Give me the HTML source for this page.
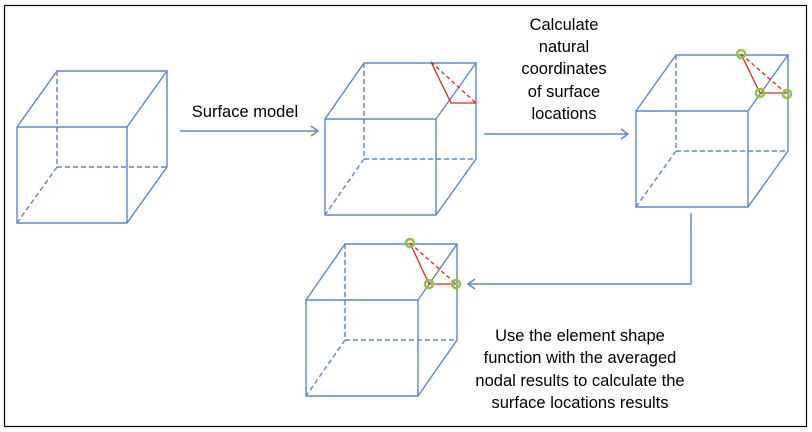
<!DOCTYPE html>
<html><head><meta charset="utf-8"><style>
html,body{margin:0;padding:0;background:#fff;}
svg{display:block;}
text{font-family:"Liberation Sans",sans-serif;font-size:16.5px;fill:#000;}
</style></head><body>
<svg width="812" height="432" viewBox="0 0 812 432" xmlns="http://www.w3.org/2000/svg">
<rect x="4.5" y="5.5" width="802" height="421" fill="#fff" stroke="#000" stroke-width="1.2"/>
<g fill="none" stroke="#5b87c8" stroke-width="1.4">
<path d="M17 127H127V223H17Z M17 127L57 71H167V167L127 223 M127 127L167 71"/>
<path d="M57 71V167H167 M57 167L17 223" stroke-dasharray="5 3"/>
<path d="M325 119H436V215H325Z M325 119L364 63H476V159L436 215 M436 119L476 63"/>
<path d="M364 63V159H476 M364 159L325 215" stroke-dasharray="5 3"/>
<path d="M636 111H748V207H636Z M636 111L676 55H788V151L748 207 M748 111L788 55"/>
<path d="M676 55V151H788 M676 151L636 207" stroke-dasharray="5 3"/>
<path d="M306 300H418V396H306Z M306 300L345 244H457V340L418 396 M418 300L457 244"/>
<path d="M345 244V340H457 M345 340L306 396" stroke-dasharray="5 3"/>
<path d="M180 131H318 M311 126L318 131L311 136"/>
<path d="M484 134H628 M621 129L628 134L621 139"/>
<path d="M691 213V284H468 M475 279L468 284L475 289"/>
</g>
<g fill="none" stroke="#e8211d" stroke-width="1.3">
<path d="M431 62L451 103H476"/>
<path d="M431 62L476 103" stroke-dasharray="4 3"/>
<path d="M741 54L760 93H787"/>
<path d="M741 54L787 94" stroke-dasharray="4 3"/>
<path d="M410 243L429 284H456"/>
<path d="M410 243L456 284" stroke-dasharray="4 3"/>
</g>
<g fill="none" stroke="#8cc63f" stroke-width="2.5">
<circle cx="741" cy="54" r="4"/><circle cx="760" cy="93" r="4"/><circle cx="787" cy="94" r="4"/>
<circle cx="410" cy="243" r="4"/><circle cx="429" cy="284" r="4"/><circle cx="456" cy="284" r="4"/>
</g>
<text x="245" y="117" text-anchor="middle">Surface model</text>
<g text-anchor="middle">
<text x="564" y="30">Calculate</text>
<text x="564" y="52">natural</text>
<text x="564" y="74">coordinates</text>
<text x="564" y="97">of surface</text>
<text x="564" y="119">locations</text>
<text x="580" y="341">Use the element shape</text>
<text x="580" y="363">function with the averaged</text>
<text x="580" y="386">nodal results to calculate the</text>
<text x="580" y="408">surface locations results</text>
</g>
</svg>
</body></html>
